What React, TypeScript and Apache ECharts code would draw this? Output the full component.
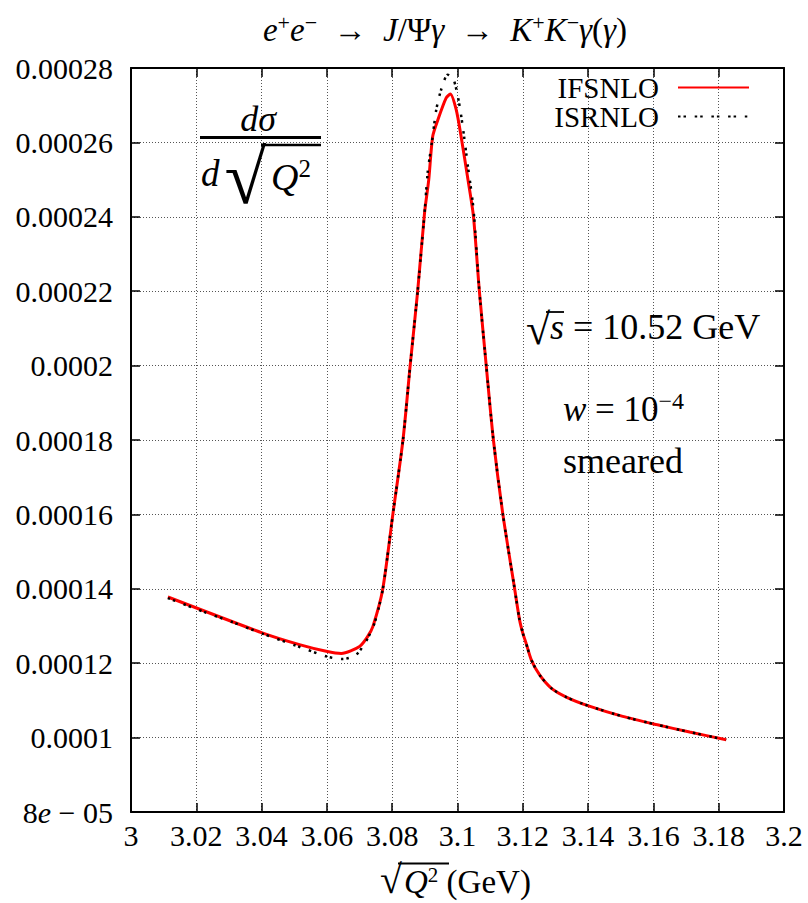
import React, { useEffect, useRef } from 'react';
import * as echarts from 'echarts';

const FONT = 'Liberation Serif';

// x axis ticks (GeV)
const xTickLabels = ['3', '3.02', '3.04', '3.06', '3.08', '3.1', '3.12', '3.14', '3.16', '3.18', '3.2'];
// y axis ticks
const yTickLabels = ['8{it|e} − 05', '0.0001', '0.00012', '0.00014', '0.00016', '0.00018', '0.0002', '0.00022', '0.00024', '0.00026', '0.00028'];

const seriesNames = ['IFSNLO', 'ISRNLO'];

// IFSNLO (red solid)
const ifsX = [3.0113, 3.0404, 3.0516, 3.0598, 3.0644, 3.07, 3.0725, 3.0741, 3.0771, 3.0802, 3.0833, 3.0855, 3.0878, 3.0899, 3.0912, 3.0924, 3.094, 3.0965, 3.0978, 3.0996, 3.1011, 3.1032, 3.1049, 3.1067, 3.1088, 3.111, 3.1139, 3.1175, 3.119, 3.12, 3.121, 3.1226, 3.1251, 3.1287, 3.1333, 3.1399, 3.1506, 3.1609, 3.1711, 3.1823];
const ifsY = [1.378e-4, 1.281e-4, 1.25e-4, 1.232e-4, 1.226e-4, 1.245e-4, 1.272e-4, 1.299e-4, 1.399e-4, 1.6e-4, 1.8e-4, 2.0e-4, 2.2e-4, 2.41e-4, 2.5e-4, 2.616e-4, 2.661e-4, 2.719e-4, 2.73e-4, 2.688e-4, 2.616e-4, 2.5e-4, 2.4e-4, 2.2e-4, 2.0e-4, 1.8e-4, 1.6e-4, 1.4e-4, 1.317e-4, 1.281e-4, 1.254e-4, 1.209e-4, 1.169e-4, 1.133e-4, 1.109e-4, 1.086e-4, 1.057e-4, 1.035e-4, 1.015e-4, 0.994e-4];

// ISRNLO (black dotted)
const isrX = [3.0113, 3.022, 3.0312, 3.0404, 3.0506, 3.0603, 3.0649, 3.069, 3.072, 3.0746, 3.0771, 3.0802, 3.0833, 3.0855, 3.0878, 3.0899, 3.0909, 3.0922, 3.0935, 3.095, 3.097, 3.0988, 3.1004, 3.1016, 3.1032, 3.1049, 3.1067, 3.1088, 3.111, 3.1139, 3.1175, 3.119, 3.12, 3.121, 3.1226, 3.1251, 3.1287, 3.1333, 3.1399, 3.1506, 3.1609, 3.1711, 3.1823];
const isrY = [1.375e-4, 1.339e-4, 1.31e-4, 1.279e-4, 1.247e-4, 1.217e-4, 1.211e-4, 1.223e-4, 1.259e-4, 1.308e-4, 1.398e-4, 1.6e-4, 1.8e-4, 2.0e-4, 2.2e-4, 2.41e-4, 2.522e-4, 2.603e-4, 2.688e-4, 2.742e-4, 2.782e-4, 2.769e-4, 2.71e-4, 2.643e-4, 2.535e-4, 2.42e-4, 2.2e-4, 2.0e-4, 1.8e-4, 1.6e-4, 1.4e-4, 1.317e-4, 1.281e-4, 1.254e-4, 1.209e-4, 1.169e-4, 1.133e-4, 1.109e-4, 1.086e-4, 1.057e-4, 1.035e-4, 1.015e-4, 0.994e-4];

const X_MIN = 3, X_MAX = 3.2, X_INT = 0.02;
const Y_MIN = 8e-5, Y_MAX = 2.8e-4, Y_INT = 2e-5;

const gridLine = { show: true, lineStyle: { color: '#555', width: 1, type: [1, 2] } };
const frameLine = { show: true, onZero: false, lineStyle: { color: '#000', width: 2 } };
const tick = { show: true, inside: true, length: 9, lineStyle: { color: '#000', width: 1.5 } };

export default function App() {
  const ref = useRef<HTMLDivElement>(null);
  useEffect(() => {
    if (!ref.current) return;
    const chart = echarts.init(ref.current, null, { renderer: 'svg' });
    const italic = { fontStyle: 'italic', fontFamily: FONT };
    const option: any = {
      animation: false,
      backgroundColor: '#fff',
      textStyle: { fontFamily: FONT },
      grid: { left: 131, right: 24, top: 68, bottom: 91, containLabel: false },
      legend: {
        data: seriesNames,
        orient: 'vertical',
        right: 53,
        top: 68,
        align: 'right',
        itemWidth: 71,
        itemHeight: 14,
        itemGap: 0,
        itemStyle: { opacity: 0 },
        textStyle: { fontFamily: FONT, fontSize: 29, color: '#000', padding: [0, 14, 0, 0] },
      },
      xAxis: [
        {
          type: 'value', min: X_MIN, max: X_MAX, interval: X_INT, position: 'bottom',
          axisLine: frameLine, axisTick: tick, splitLine: gridLine,
          axisLabel: {
            margin: 8, color: '#000', fontFamily: FONT, fontSize: 30,
            formatter: (v: number) => xTickLabels[Math.round((v - X_MIN) / X_INT)] ?? '',
          },
        },
        {
          type: 'value', min: X_MIN, max: X_MAX, interval: X_INT, position: 'top',
          axisLine: frameLine, axisTick: tick, splitLine: { show: false }, axisLabel: { show: false },
        },
      ],
      yAxis: [
        {
          type: 'value', min: Y_MIN, max: Y_MAX, interval: Y_INT, position: 'left',
          axisLine: frameLine, axisTick: tick, splitLine: gridLine,
          axisLabel: {
            margin: 18, color: '#000', fontFamily: FONT, fontSize: 30,
            formatter: (v: number) => yTickLabels[Math.round((v - Y_MIN) / Y_INT)] ?? '',
            rich: { it: { ...italic, fontSize: 30, color: '#000' } },
          },
        },
        {
          type: 'value', min: Y_MIN, max: Y_MAX, interval: Y_INT, position: 'right',
          axisLine: frameLine, axisTick: tick, splitLine: { show: false }, axisLabel: { show: false },
        },
      ],
      series: [
        {
          name: seriesNames[0], type: 'line', xAxisIndex: 0, yAxisIndex: 0,
          data: ifsX.map((x, i) => [x, ifsY[i]]),
          symbol: 'none', smooth: 0.25, z: 3,
          lineStyle: { color: '#ff0000', width: 3 },
          itemStyle: { color: '#ff0000' },
        },
        {
          name: seriesNames[1], type: 'line', xAxisIndex: 0, yAxisIndex: 0,
          data: isrX.map((x, i) => [x, isrY[i]]),
          symbol: 'none', smooth: 0.25, z: 4,
          lineStyle: { color: '#000', width: 2.5, type: [2.5, 3, 2.5, 8.7] },
          itemStyle: { color: '#000' },
        },
      ],
      graphic: [
        // title
        {
          type: 'text', x: 445, y: 30, z: 10,
          style: {
            text: '{i|e}{s|+}{i|e}{s|−}  →  {i|J}/Ψ{i|γ}  →  {i|K}{s|+}{i|K}{s|−}{i|γ}({i|γ})',
            fontFamily: FONT, fontSize: 33, lineHeight: 38, fill: '#000',
            align: 'center', verticalAlign: 'middle',
            rich: {
              i: { ...italic, fontSize: 33, lineHeight: 38 },
              s: { fontFamily: FONT, fontSize: 22, lineHeight: 22, verticalAlign: 'top' },
            },
          },
        },
        // fraction d sigma / d sqrt(Q^2)
        {
          type: 'text', x: 258, y: 119, z: 10,
          style: { text: 'dσ', ...italic, fontSize: 36, fill: '#000', align: 'center', verticalAlign: 'middle' },
        },
        { type: 'line', z: 10, shape: { x1: 200, y1: 137.5, x2: 321, y2: 137.5 }, style: { stroke: '#000', lineWidth: 3 } },
        {
          type: 'text', x: 201, y: 173, z: 10,
          style: { text: 'd', ...italic, fontSize: 37, fill: '#000', align: 'left', verticalAlign: 'middle' },
        },
        {
          type: 'text', x: 224.5, y: 176.5, z: 10,
          style: { text: '√', fontFamily: FONT, fontSize: 76, lineHeight: 60, fill: '#000', align: 'left', verticalAlign: 'middle' },
        },
        { type: 'line', z: 10, shape: { x1: 261, y1: 145, x2: 321, y2: 145 }, style: { stroke: '#000', lineWidth: 2.5 } },
        {
          type: 'text', x: 271, y: 177, z: 10,
          style: {
            text: '{q|Q}{s|2}', fontFamily: FONT, fontSize: 38, lineHeight: 42, fill: '#000', align: 'left', verticalAlign: 'middle',
            rich: { q: { ...italic, fontSize: 38, lineHeight: 42 }, s: { fontFamily: FONT, fontSize: 25, lineHeight: 28, verticalAlign: 'top' } },
          },
        },
        // sqrt(s) = 10.52 GeV
        {
          type: 'text', x: 526, y: 329, z: 10,
          style: { text: '√', fontFamily: FONT, fontSize: 44, lineHeight: 40, fill: '#000', align: 'left', verticalAlign: 'middle' },
        },
        { type: 'line', z: 10, shape: { x1: 546, y1: 312, x2: 564, y2: 312 }, style: { stroke: '#000', lineWidth: 1.8 } },
        {
          type: 'text', x: 550, y: 327, z: 10,
          style: {
            text: '{i|s} = 10.52 GeV', fontFamily: FONT, fontSize: 36, lineHeight: 40, fill: '#000', align: 'left', verticalAlign: 'middle',
            rich: { i: { ...italic, fontSize: 36, lineHeight: 40 } },
          },
        },
        // w = 10^-4
        {
          type: 'text', x: 563, y: 409, z: 10,
          style: {
            text: '{i|w} = 10{s|−4}', fontFamily: FONT, fontSize: 35, lineHeight: 40, fill: '#000', align: 'left', verticalAlign: 'middle',
            rich: { i: { ...italic, fontSize: 35, lineHeight: 40 }, s: { fontFamily: FONT, fontSize: 24, lineHeight: 24, verticalAlign: 'top' } },
          },
        },
        // smeared
        {
          type: 'text', x: 563, y: 461, z: 10,
          style: { text: 'smeared', fontFamily: FONT, fontSize: 36, fill: '#000', align: 'left', verticalAlign: 'middle' },
        },
        // x axis name
        {
          type: 'text', x: 380, y: 879, z: 10,
          style: { text: '√', fontFamily: FONT, fontSize: 40, lineHeight: 34, fill: '#000', align: 'left', verticalAlign: 'middle' },
        },
        { type: 'line', z: 10, shape: { x1: 398, y1: 863.5, x2: 449, y2: 863.5 }, style: { stroke: '#000', lineWidth: 2 } },
        {
          type: 'text', x: 404, y: 882, z: 10,
          style: {
            text: '{i|Q}{s|2} (GeV)', fontFamily: FONT, fontSize: 33, lineHeight: 36, fill: '#000', align: 'left', verticalAlign: 'middle',
            rich: { i: { ...italic, fontSize: 33, lineHeight: 36 }, s: { fontFamily: FONT, fontSize: 21, lineHeight: 22, verticalAlign: 'top' } },
          },
        },
      ],
    };
    chart.setOption(option);
    return () => chart.dispose();
  }, []);
  return (
    <div
      ref={ref}
      style={{ position: 'fixed', left: 0, top: 0, width: 808, height: 903, background: '#fff' }}
    />
  );
}
